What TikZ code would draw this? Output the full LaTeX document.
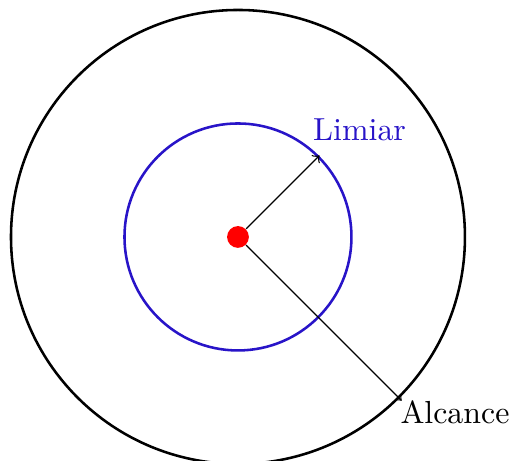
\documentclass[tikz,border=0pt]{standalone}
\usepackage{xcolor}
\usepackage{tikz}
\usetikzlibrary{positioning}

\definecolor{limiarcor}{RGB}{40,20,200}

\begin{document}
\begin{tikzpicture}[
    zona/.style={circle, draw, thick, inner sep=0pt},
    ponto/.style={circle, fill=red, inner sep=0pt, minimum size=0.24cm},
    seta/.style={->}
]
    \useasboundingbox (-2.621,-2.467) rectangle (2.985,2.610);
    \node[zona, minimum size=5cm] (alcance) at (0,0) {};
    \node[zona, draw=limiarcor, minimum size=2.5cm] (limiar) at (0,0) {};
    \node[ponto] (centro) at (0,0) {};
    \coordinate (fimlimiar) at (45:1.27);
    \coordinate (fimalcance) at (-45:2.55);
    \node[above right=1pt and -5.5pt of fimlimiar, text=limiarcor] (rotlimiar) {Limiar};
    \node[below right=-3.6pt and -3.9pt of fimalcance] (rotalcance) {Alcance};

    \draw[seta] (centro) -- (fimlimiar);
    \draw[seta] (centro) -- (fimalcance);
\end{tikzpicture}
\end{document}
